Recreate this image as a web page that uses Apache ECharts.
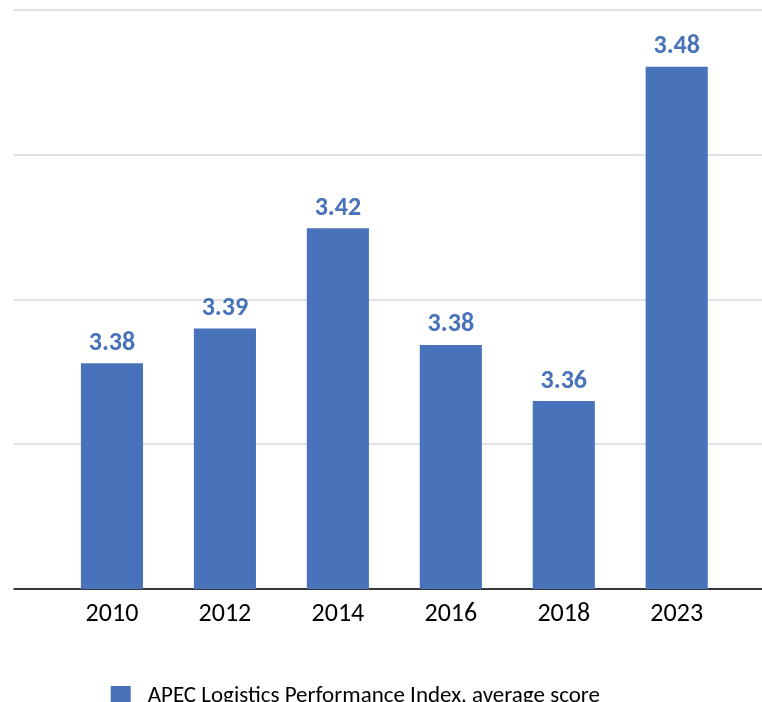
<!DOCTYPE html>
<html>
<head>
<meta charset="utf-8">
<script src="https://cdn.jsdelivr.net/npm/echarts@6/dist/echarts.min.js"></script>
<style>
html,body{margin:0;padding:0;background:#fff;}
#chart{width:762px;height:702px;}
</style>
</head>
<body>
<div id="chart"></div>
<script>
var years = ['2010', '2012', '2014', '2016', '2018', '2023'];
var scores = [3.378, 3.390, 3.4246, 3.3843, 3.3649, 3.4804];
var seriesName = 'APEC Logistics Performance Index, average score';
var yMin = 3.3, yMax = 3.5, yInterval = 0.05;

var FONT = 'Carlito, Lato, sans-serif';
var BLUE = '#4872ba';

var chart = echarts.init(document.getElementById('chart'), null, {renderer: 'canvas'});
chart.setOption({
  animation: false,
  backgroundColor: '#fff',
  grid: [
    {left: 14, right: 0, top: 10, height: 579},
    {left: 55.5, right: 28.8, top: 10, height: 579}
  ],
  xAxis: [
    {
      type: 'category', gridIndex: 0, data: [''],
      axisLine: {show: true, lineStyle: {color: '#000', width: 1.5}},
      axisTick: {show: false}, axisLabel: {show: false}, splitLine: {show: false}
    },
    {
      type: 'category', gridIndex: 1, data: years,
      axisLine: {show: false}, axisTick: {show: false},
      axisLabel: {color: '#000', fontFamily: FONT, fontSize: 26, margin: 12}
    }
  ],
  yAxis: [
    {
      type: 'value', gridIndex: 0, min: yMin, max: yMax, interval: yInterval,
      axisLine: {show: false}, axisTick: {show: false}, axisLabel: {show: false},
      splitLine: {show: true, lineStyle: {color: '#d9d9d9', width: 1.5}}
    },
    {
      type: 'value', gridIndex: 1, min: yMin, max: yMax, interval: yInterval, show: false,
      splitLine: {show: false}
    }
  ],
  legend: {
    top: 684,
    left: 110.7,
    padding: 0,
    icon: 'rect',
    itemWidth: 20,
    itemHeight: 20,
    textStyle: {color: '#000', fontFamily: FONT, fontSize: 23, lineHeight: 24, padding: [0, 0, 0, 12]},
    data: [seriesName]
  },
  series: [{
    name: seriesName,
    type: 'bar',
    xAxisIndex: 1, yAxisIndex: 1,
    data: scores,
    barWidth: '55%',
    itemStyle: {color: BLUE},
    label: {
      show: true, position: 'top', distance: 7,
      color: BLUE, fontFamily: FONT, fontSize: 26, fontWeight: 'bold',
      formatter: function (p) { return (Math.floor(p.value * 100 + 0.5) / 100).toFixed(2); }
    }
  }]
});
</script>
</body>
</html>
